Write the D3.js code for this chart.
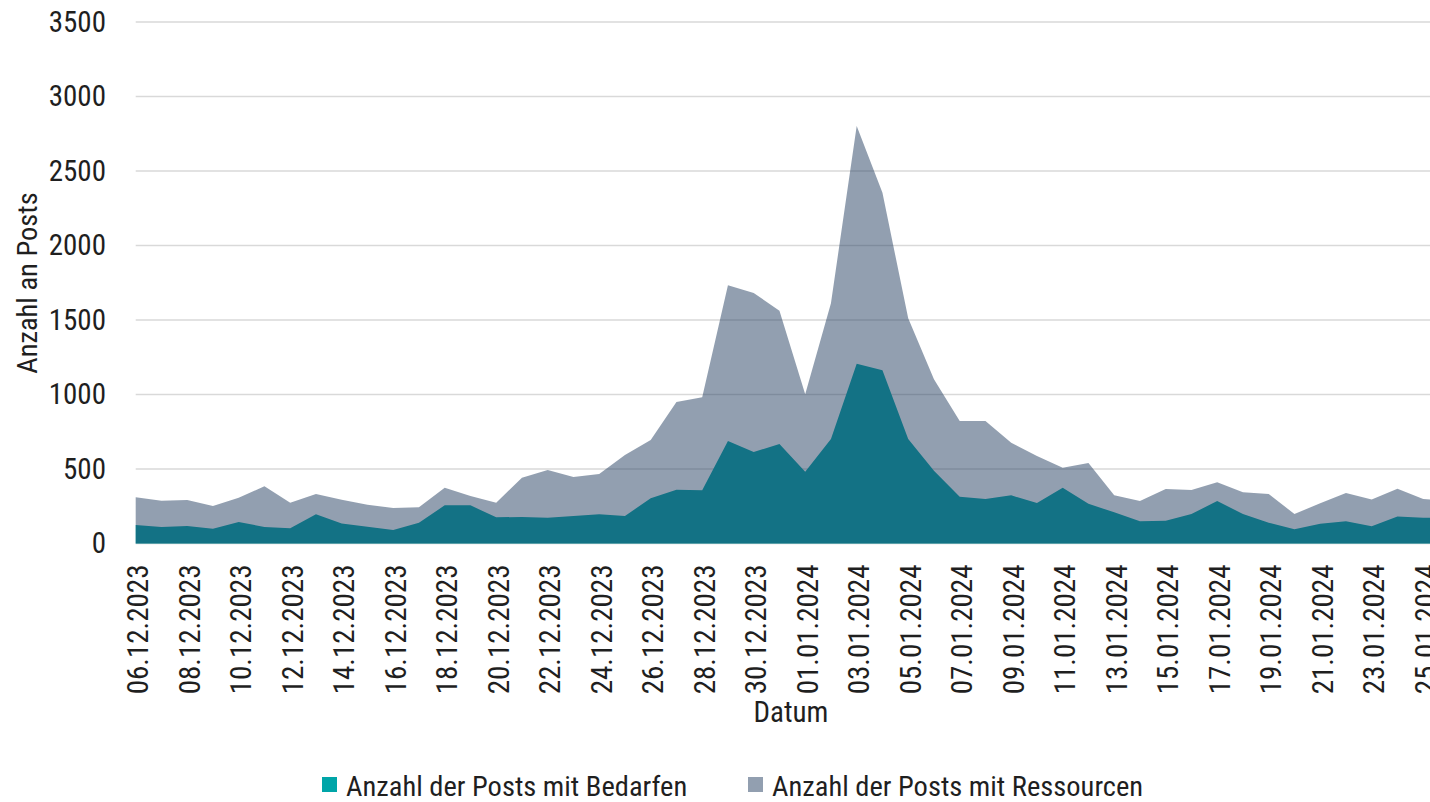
<!DOCTYPE html>
<html>
<head>
<meta charset="utf-8">
<script src="https://cdn.jsdelivr.net/npm/d3@7"></script>
<style>
  html, body { margin: 0; padding: 0; background: #fff; }
  svg { display: block; }
  text { font-family: "Roboto Condensed", "Roboto", sans-serif; fill: #1f1f1f; }
</style>
</head>
<body>
<svg id="chart" width="1430" height="802"></svg>
<script>
// Daily post counts, 06.12.2023 – 26.01.2024
const dates = [
  "06.12.2023","07.12.2023","08.12.2023","09.12.2023","10.12.2023","11.12.2023","12.12.2023",
  "13.12.2023","14.12.2023","15.12.2023","16.12.2023","17.12.2023","18.12.2023","19.12.2023",
  "20.12.2023","21.12.2023","22.12.2023","23.12.2023","24.12.2023","25.12.2023","26.12.2023",
  "27.12.2023","28.12.2023","29.12.2023","30.12.2023","31.12.2023","01.01.2024","02.01.2024",
  "03.01.2024","04.01.2024","05.01.2024","06.01.2024","07.01.2024","08.01.2024","09.01.2024",
  "10.01.2024","11.01.2024","12.01.2024","13.01.2024","14.01.2024","15.01.2024","16.01.2024",
  "17.01.2024","18.01.2024","19.01.2024","20.01.2024","21.01.2024","22.01.2024","23.01.2024",
  "24.01.2024","25.01.2024","26.01.2024"
];

const bedarfen = [
  124,111,117,99,144,111,102,196,135,113,91,140,256,256,176,178,173,185,196,185,303,
  361,357,688,614,668,482,701,1207,1162,701,489,314,299,323,272,375,267,209,149,153,
  198,285,198,140,95,133,149,115,182,173,172
];

const ressourcen = [
  310,287,292,252,307,384,274,332,294,260,238,243,375,319,274,442,493,446,466,594,695,
  950,981,1733,1681,1562,1001,1612,2802,2354,1511,1102,822,822,677,587,509,540,323,285,
  366,359,411,344,332,198,270,339,296,368,299,285
];

const yTicks = [0, 500, 1000, 1500, 2000, 2500, 3000, 3500];

const seriesNames = ["Anzahl der Posts mit Bedarfen", "Anzahl der Posts mit Ressourcen"];

const parse = d3.timeParse("%d.%m.%Y");
const fmt = d3.timeFormat("%d.%m.%Y");
const rows = dates.map((d, i) => ({ date: parse(d), b: bedarfen[i], r: ressourcen[i] }));

const svg = d3.select("#chart");

const plotLeft = 135.7, plotBottom = 543.5, plotTop = 22;
const dayW = 25.75;
const fontStack = "\"Roboto Condensed\", \"Roboto\", sans-serif";

const x = d3.scaleTime()
  .domain([parse("06.12.2023"), parse("25.01.2024")])
  .range([plotLeft, plotLeft + 50 * dayW]);

const y = d3.scaleLinear().domain([0, 3500]).range([plotBottom, plotTop]);

// horizontal gridlines
svg.append("g")
  .selectAll("line")
  .data(yTicks)
  .join("line")
  .attr("x1", plotLeft)
  .attr("x2", 1500)
  .attr("y1", d => y(d))
  .attr("y2", d => y(d))
  .attr("stroke", "#d9d9d9")
  .attr("stroke-width", 1.5);

// y axis labels
const yAxis = d3.axisLeft(y).tickValues(yTicks).tickFormat(d3.format("d")).tickSize(0).tickPadding(0);
svg.append("g")
  .attr("transform", "translate(106,0)")
  .call(yAxis)
  .call(g => g.select(".domain").remove())
  .call(g => g.selectAll("text")
    .attr("font-size", 29)
    .attr("fill", "#1f1f1f")
    .style("font-family", fontStack));

// areas: Bedarfen opaque, Ressourcen translucent on top
const areaB = d3.area().x(d => x(d.date)).y0(y(0)).y1(d => y(d.b));
const areaR = d3.area().x(d => x(d.date)).y0(y(0)).y1(d => y(d.r));

svg.append("path")
  .datum(rows)
  .attr("d", areaB)
  .attr("fill", "#00a5a8");

svg.append("path")
  .datum(rows)
  .attr("d", areaR)
  .attr("fill", "#253f61")
  .attr("fill-opacity", 0.5);

// x axis labels (every second day)
const xTickDates = dates.filter((d, i) => i % 2 === 0 && i <= 50).map(parse);
const xAxis = d3.axisBottom(x).tickValues(xTickDates).tickFormat(fmt).tickSize(0).tickPadding(0);
svg.append("g")
  .attr("transform", `translate(0,${plotBottom})`)
  .call(xAxis)
  .call(g => g.select(".domain").remove())
  .call(g => g.selectAll("text")
    .attr("font-size", 29)
    .attr("fill", "#1f1f1f")
    .style("font-family", fontStack)
    .attr("text-anchor", "end")
    .attr("dy", "0.35em")
    .attr("transform", "translate(2,21) rotate(-90)")
    .attr("x", 0)
    .attr("y", 0));

// axis titles
svg.append("text")
  .attr("x", 791)
  .attr("y", 722)
  .attr("text-anchor", "middle")
  .attr("font-size", 29)
  .text("Datum");

svg.append("text")
  .attr("transform", "translate(37,283) rotate(-90)")
  .attr("text-anchor", "middle")
  .attr("font-size", 28.5)
  .text("Anzahl an Posts");

// legend
const legendColors = ["#00a5a8", "#929fb0"];
const legendX = [322, 748];
const lg = svg.append("g");
seriesNames.forEach((name, i) => {
  lg.append("rect")
    .attr("x", legendX[i])
    .attr("y", 777)
    .attr("width", 15)
    .attr("height", 15)
    .attr("fill", legendColors[i]);
  lg.append("text")
    .attr("x", legendX[i] + 24)
    .attr("y", 796)
    .attr("font-size", 28.5)
    .text(name);
});
</script>
</body>
</html>
